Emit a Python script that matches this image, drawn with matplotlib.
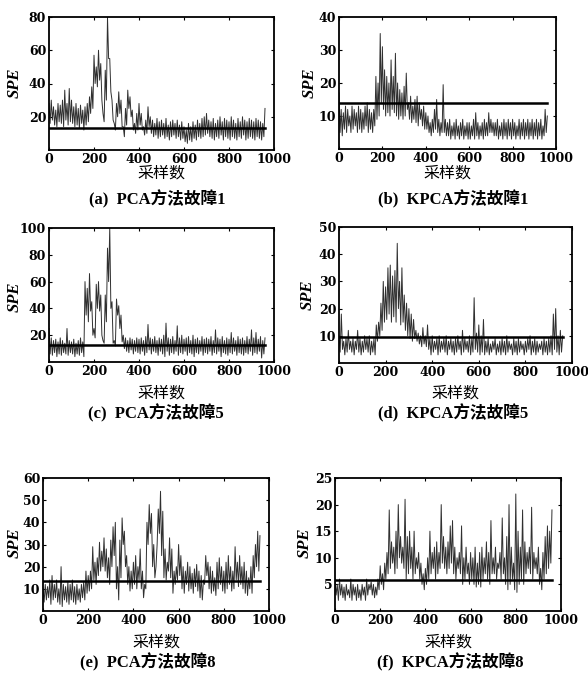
import numpy as np
import matplotlib.pyplot as plt

plt.rcParams['font.family'] = ['Liberation Serif', 'Noto Sans CJK SC']

# sample index of the upper (every 10) and lower (offset 5) envelope points
hi_x = np.arange(0, 961, 10)
lo_x = np.arange(5, 960, 10)

# (a) PCA fault 1
pca1_hi = [28, 30, 26, 24, 28, 27, 30, 36, 28, 37,
           30, 26, 28, 25, 27, 24, 26, 28, 32, 38,
           57, 50, 60, 52, 22, 48, 80, 55, 30, 16,
           28, 35, 30, 14, 25, 36, 32, 24, 16, 22,
           28, 22, 14, 18, 26, 20, 18, 16, 19, 17,
           18, 16, 19, 15, 17, 18, 16, 18, 15, 17,
           14, 12, 16, 14, 17, 15, 18, 16, 19, 20,
           22, 18, 17, 19, 16, 18, 20, 17, 19, 18,
           17, 20, 18, 16, 19, 17, 20, 18, 17, 19,
           18, 17, 19, 18, 17, 16, 25]
pca1_lo = [16, 18, 15, 14, 17, 16, 14, 18, 15, 17,
           16, 14, 15, 13, 16, 12, 15, 17, 22, 25,
           40, 38, 42, 30, 17, 30, 55, 35, 18, 12,
           20, 22, 14, 8, 15, 25, 20, 12, 10, 12,
           15, 12, 9, 10, 14, 10, 8, 9, 7, 8,
           9, 7, 8, 6, 8, 9, 7, 8, 6, 7,
           5, 4, 6, 5, 7, 6, 8, 7, 8, 9,
           10, 8, 7, 6, 8, 7, 9, 6, 8, 7,
           6, 8, 7, 6, 8, 7, 9, 6, 7, 8,
           7, 6, 8, 7, 6, 8]

# (b) KPCA fault 1
kpca1_hi = [17, 12, 11, 13, 12, 10, 13, 12, 11, 13,
            12, 11, 13, 14, 12, 11, 12, 22, 20, 35,
            31, 24, 22, 20, 27, 22, 29, 20, 18, 17,
            19, 23, 14, 16, 13, 15, 16, 14, 12, 13,
            11, 10, 8, 9, 12, 15, 9, 8, 19.5, 9,
            8, 9, 7, 8, 9, 7, 8, 9, 7, 8,
            8, 7, 9, 11, 8, 7, 8, 9, 8, 11,
            9, 8, 8, 9, 7, 8, 9, 8, 9, 8,
            9, 8, 7, 9, 8, 9, 8, 9, 8, 9,
            8, 9, 8, 9, 7, 12, 10]
kpca1_lo = [5, 4, 6, 5, 7, 5, 6, 7, 5, 6,
            5, 6, 7, 5, 6, 5, 7, 9, 10, 14,
            12, 10, 11, 10, 12, 11, 10, 9, 10, 9,
            10, 12, 9, 8, 9, 8, 7, 9, 7, 6,
            6, 5, 4, 5, 6, 5, 4, 5, 5, 4,
            4, 3, 4, 3, 4, 3, 4, 3, 4, 3,
            3, 4, 3, 4, 3, 4, 3, 4, 4, 5,
            5, 4, 4, 3, 4, 3, 4, 3, 4, 3,
            4, 3, 4, 3, 4, 3, 4, 3, 4, 3,
            4, 3, 4, 3, 4, 5]

# (c) PCA fault 5
pca5_hi = [25, 18, 16, 17, 15, 18, 16, 14, 25, 16,
           15, 17, 14, 16, 18, 15, 60, 55, 66, 45,
           25, 58, 60, 50, 16, 50, 85, 100, 45, 16,
           47, 42, 35, 20, 18, 16, 18, 17, 16, 18,
           17, 18, 16, 19, 28, 18, 17, 19, 16, 18,
           17, 20, 29, 18, 17, 19, 16, 27, 18, 20,
           17, 18, 19, 16, 20, 17, 18, 16, 19, 17,
           18, 17, 19, 16, 24, 18, 17, 19, 16, 18,
           17, 22, 18, 16, 19, 17, 18, 16, 19, 17,
           24, 18, 22, 17, 19, 16, 18]
pca5_lo = [6, 5, 7, 4, 6, 5, 7, 6, 5, 7,
           6, 4, 6, 5, 7, 4, 35, 30, 38, 20,
           18, 40, 38, 20, 14, 30, 60, 40, 14, 12,
           35, 25, 15, 10, 8, 7, 9, 6, 8, 7,
           6, 8, 5, 7, 9, 6, 8, 7, 5, 8,
           6, 4, 8, 5, 7, 6, 8, 5, 7, 6,
           8, 5, 7, 6, 4, 7, 6, 8, 5, 7,
           6, 8, 5, 7, 6, 8, 4, 7, 6, 5,
           7, 6, 8, 5, 7, 6, 5, 7, 6, 8,
           5, 7, 6, 8, 3, 6]

# (d) KPCA fault 5
kpca5_hi = [10, 18, 8, 9, 12, 8, 9, 8, 12, 9,
            8, 10, 9, 10, 8, 9, 14, 15, 22, 30,
            28, 35, 36, 32, 34, 44, 30, 35, 25, 22,
            20, 18, 16, 12, 11, 10, 13, 10, 14, 9,
            10, 8, 9, 10, 8, 9, 10, 8, 9, 8,
            9, 10, 8, 12, 9, 8, 10, 9, 24, 11,
            14, 10, 16, 8, 9, 7, 8, 9, 7, 8,
            9, 8, 10, 8, 7, 9, 8, 9, 8, 7,
            8, 9, 10, 8, 9, 8, 7, 8, 9, 8,
            9, 10, 18, 20, 10, 12, 10]
kpca5_lo = [4, 5, 3, 4, 5, 4, 3, 5, 4, 3,
            4, 5, 4, 3, 4, 3, 8, 10, 12, 15,
            16, 18, 15, 17, 15, 20, 14, 15, 12, 10,
            9, 8, 9, 8, 7, 6, 7, 6, 5, 3,
            4, 5, 3, 4, 5, 4, 3, 5, 4, 3,
            4, 5, 3, 4, 5, 4, 3, 4, 5, 4,
            3, 4, 3, 4, 3, 4, 5, 3, 4, 3,
            4, 3, 4, 5, 3, 4, 3, 4, 5, 3,
            4, 5, 3, 4, 3, 4, 5, 3, 4, 3,
            4, 3, 5, 4, 3, 4]

# (e) PCA fault 8
pca8_hi = [10, 12, 11, 14, 16, 12, 14, 10, 20, 12,
           11, 13, 12, 14, 11, 12, 10, 12, 13, 18,
           16, 18, 29, 22, 24, 31, 27, 33, 28, 24,
           32, 38, 40, 20, 32, 42, 36, 25, 20, 18,
           22, 25, 20, 28, 18, 12, 40, 48, 44, 30,
           20, 46, 54, 45, 28, 22, 33, 28, 18, 20,
           30, 25, 20, 18, 22, 20, 17, 19, 21, 18,
           16, 14, 25, 22, 20, 18, 15, 22, 24, 20,
           18, 22, 25, 20, 18, 29, 22, 25, 20, 22,
           18, 15, 20, 25, 30, 36, 34]
pca8_lo = [4, 5, 6, 3, 5, 6, 4, 3, 2, 5,
           4, 3, 5, 4, 3, 5, 4, 6, 5, 8,
           9, 10, 14, 12, 16, 18, 20, 18, 15, 12,
           20, 25, 10, 5, 15, 30, 20, 12, 9, 10,
           12, 10, 14, 10, 6, 10, 30, 35, 20, 15,
           30, 35, 25, 15, 14, 18, 15, 8, 12, 14,
           16, 10, 8, 12, 9, 10, 8, 11, 9, 6,
           5, 12, 16, 10, 8, 9, 7, 10, 12, 9,
           8, 10, 12, 9, 10, 14, 11, 12, 10, 8,
           7, 10, 8, 15, 20, 18]

# (f) KPCA fault 8
kpca8_hi = [6, 5, 6, 5, 4.5, 5, 4, 6, 5, 4.5,
            5, 4, 5, 4.5, 6, 5, 5.5, 5, 4.5, 6,
            8.5, 7, 9, 11, 19, 13, 12, 15, 20, 14,
            12, 21, 14, 15, 12, 15, 10, 11, 9, 7,
            8, 10, 15, 11, 12, 13, 11, 20, 14, 12,
            13, 16, 17, 12, 10, 11, 16, 10, 12, 9,
            11, 10, 12, 9, 11, 12, 10, 13, 11, 17,
            10, 12, 9, 11, 17.5, 10, 14, 20, 12, 9,
            22, 15, 12, 19, 13, 11, 12, 19.5, 11, 10,
            12, 8, 11, 14, 16, 15, 19]
kpca8_lo = [3, 2, 3, 2.5, 2, 3, 2.5, 2, 3, 2,
            2.5, 2, 3, 2, 3, 4, 3, 2.5, 3, 4,
            5, 4, 6, 7, 8, 9, 7, 8, 10, 9,
            8, 6, 7, 8, 6, 7, 8, 6, 5, 4,
            5, 6, 7, 8, 6, 7, 8, 9, 8, 7,
            8, 9, 7, 6, 8, 7, 5, 6, 7, 5,
            6, 5, 4.5, 5, 4.5, 6, 7, 6, 5, 7,
            7, 6, 8, 6, 7, 5, 4, 5, 6, 4,
            3.5, 5, 6, 5, 7, 8, 7, 6, 8, 7,
            5, 4, 6, 7, 8, 9]

thresholds = [13.5, 14, 12.5, 9.5, 13.5, 5.8]
y_tops = [80, 40, 100, 50, 60, 25]
y_steps = [20, 10, 20, 10, 10, 5]
captions = ['(a)  PCA方法故障1', '(b)  KPCA方法故障1',
            '(c)  PCA方法故障5', '(d)  KPCA方法故障5',
            '(e)  PCA方法故障8', '(f)  KPCA方法故障8']
series = [(pca1_hi, pca1_lo), (kpca1_hi, kpca1_lo),
          (pca5_hi, pca5_lo), (kpca5_hi, kpca5_lo),
          (pca8_hi, pca8_lo), (kpca8_hi, kpca8_lo)]

# axes boxes in pixels: left, top, right, bottom
boxes = [(49, 17, 274, 150), (339, 17, 556, 149),
         (49, 228, 274, 362), (339, 227, 572, 363),
         (43, 478, 269, 611), (335, 478, 561, 611)]
# pixel positions: caption (x, y), xlabel y, ylabel (x, y)
cap_pos = [(157, 199), (453, 199), (156, 413), (453, 413), (148, 662), (450, 662)]
xlab_y = [173, 173, 393, 393, 642, 642]
ylab_pos = [(15, 83), (310, 83), (15, 297), (308, 295), (15, 543), (305, 543)]

W, H = 588, 673
fig = plt.figure(figsize=(W / 100, H / 100), dpi=100)

for i in range(6):
    l, t, r, b = boxes[i]
    ax = fig.add_axes([l / W, 1 - b / H, (r - l) / W, (b - t) / H])
    hi, lo = series[i]
    x = np.empty(len(hi) + len(lo))
    y = np.empty(len(hi) + len(lo))
    x[0::2], x[1::2] = hi_x, lo_x
    y[0::2], y[1::2] = hi, lo
    ax.plot(x, y, color='#303030', lw=0.7)
    ax.plot([0, 960], [thresholds[i]] * 2, color='black', lw=1.8)

    ax.set_xlim(0, 1000)
    ax.set_ylim(0, y_tops[i])
    ax.set_xticks(np.arange(0, 1001, 200))
    ax.set_yticks(np.arange(y_steps[i], y_tops[i] + 1, y_steps[i]))
    ax.tick_params(direction='in', length=2.5, width=0.8, top=True, right=True, pad=2)
    for lab in ax.get_xticklabels() + ax.get_yticklabels():
        lab.set_fontweight('bold')
        lab.set_family('DejaVu Serif')
        lab.set_fontsize(9)
    for sp in ax.spines.values():
        sp.set_linewidth(1.3)

    cx = (l + r) / 2
    fig.text(cx / W, 1 - xlab_y[i] / H, '采样数', ha='center', va='center',
             fontsize=11.5, family=['Noto Sans CJK SC'])
    fig.text(cap_pos[i][0] / W, 1 - cap_pos[i][1] / H, captions[i], ha='center',
             va='center', fontsize=12, fontweight='bold')
    fig.text(ylab_pos[i][0] / W, 1 - ylab_pos[i][1] / H, 'SPE', ha='center',
             va='center', rotation=90, fontsize=12, fontweight='bold', style='italic')

fig.savefig('out.png', dpi=100)
